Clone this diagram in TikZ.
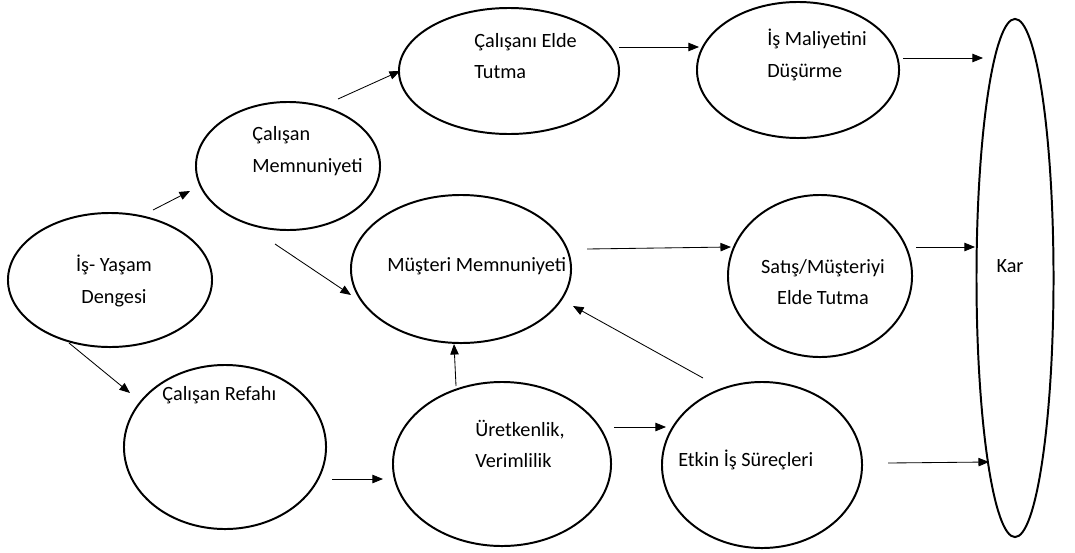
\documentclass[tikz,border=0pt]{standalone}
\usepackage{fontspec}
\setmainfont{Carlito}
\usetikzlibrary{shapes.geometric,arrows.meta}

\begin{document}
\begin{tikzpicture}[
    x=0.025cm, y=-0.025cm,
    oval/.style={ellipse,draw,line width=1.4pt,inner sep=0pt},
    yazi/.style={inner sep=0pt,align=left,anchor=west},
    ok/.style={line width=0.6pt,-{Triangle[length=7.5pt,width=6pt]}},
    every node/.style={font=\fontsize{14.4}{22.4}\selectfont}
]
\useasboundingbox (0,0) rectangle (1075,552);

% Elipsler
\node[oval,minimum width=5.1cm,minimum height=3.35cm] (denge) at (110,280) {};
\node[oval,minimum width=4.6cm,minimum height=3.2cm] (memn) at (288,166) {};
\node[oval,minimum width=5.5cm,minimum height=3.15cm] (elde) at (509,71) {};
\node[oval,minimum width=5.05cm,minimum height=3.4cm] (maliyet) at (798,70) {};
\node[oval,minimum width=1.925cm,minimum height=12.95cm] (kar) at (1015,278) {};
\node[oval,minimum width=5.5cm,minimum height=3.7cm] (musteri) at (461,269) {};
\node[oval,minimum width=4.6cm,minimum height=4.05cm] (satis) at (820,276) {};
\node[oval,minimum width=5.05cm,minimum height=4.1cm] (refah) at (225,447) {};
\node[oval,minimum width=5.45cm,minimum height=4.1cm] (uretken) at (502,464) {};
\node[oval,minimum width=5.0cm,minimum height=4.15cm] (etkin) at (762,465) {};

% Yazilar
\node[inner sep=0pt,align=center] (denge-t) at (114,281) {İş- Yaşam\\Dengesi};
\node[yazi] (memn-t) at (252,151) {Çalışan\\Memnuniyeti};
\node[yazi] (elde-t) at (474,56) {Çalışanı Elde\\Tutma};
\node[yazi] (maliyet-t) at (767,55) {İş Maliyetini\\Düşürme};
\node[yazi] (musteri-t) at (387,266) {Müşteri Memnuniyeti};
\node[inner sep=0pt,align=center] (satis-t) at (823,282) {Satış/Müşteriyi\\Elde Tutma};
\node[inner sep=0pt] (kar-t) at (1010,266) {Kar};
\node[yazi] (refah-t) at (162,395) {Çalışan Refahı};
\node[yazi] (uretken-t) at (475,444) {Üretkenlik,\\Verimlilik};
\node[yazi] (etkin-t) at (678,460) {Etkin İş Süreçleri};

% Ok uclari
\coordinate (dm1) at (153,210);  \coordinate (dm2) at (190,191);
\coordinate (me1) at (338,99);   \coordinate (me2) at (400,71);
\coordinate (mm1) at (275,244);  \coordinate (mm2) at (351,295);
\coordinate (dr1) at (69,343);   \coordinate (dr2) at (130,393);
\coordinate (ru1) at (332,479);  \coordinate (ru2) at (383,479);
\coordinate (um1) at (456,386);  \coordinate (um2) at (454,344);
\coordinate (ue1) at (614,427);  \coordinate (ue2) at (666,427);
\coordinate (em1) at (703,378);  \coordinate (em2) at (573,306);
\coordinate (ek1) at (888,463);  \coordinate (ek2) at (989,462);
\coordinate (ms1) at (587,249);  \coordinate (ms2) at (731,247);
\coordinate (sk1) at (916,247);  \coordinate (sk2) at (975,247);
\coordinate (el1) at (619,47);   \coordinate (el2) at (699,47);
\coordinate (mk1) at (903,58);   \coordinate (mk2) at (983,58);

% Oklar
\draw[ok] (dm1) -- (dm2);
\draw[ok] (me1) -- (me2);
\draw[ok] (mm1) -- (mm2);
\draw[ok] (dr1) -- (dr2);
\draw[ok] (ru1) -- (ru2);
\draw[ok] (um1) -- (um2);
\draw[ok] (ue1) -- (ue2);
\draw[ok] (em1) -- (em2);
\draw[ok] (ek1) -- (ek2);
\draw[ok] (ms1) -- (ms2);
\draw[ok] (sk1) -- (sk2);
\draw[ok] (el1) -- (el2);
\draw[ok] (mk1) -- (mk2);

\end{tikzpicture}
\end{document}
